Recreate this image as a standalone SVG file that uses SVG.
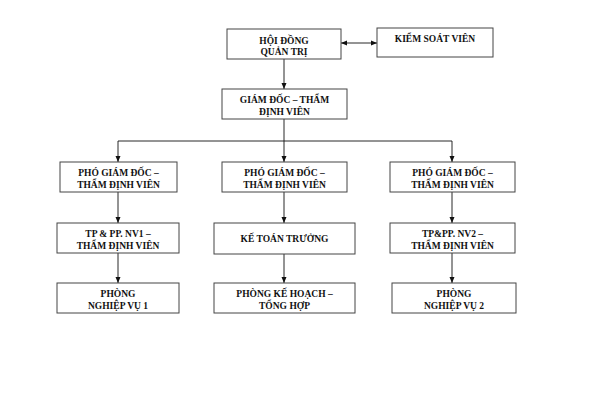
<svg xmlns="http://www.w3.org/2000/svg" width="595" height="420" viewBox="0 0 595 420">
<style>
.box{fill:#fff;stroke:#444;stroke-width:1}
.t{font-family:"Liberation Serif","Times New Roman",serif;font-weight:bold;font-size:9.5px;fill:#111;text-anchor:middle}
.c{fill:none;stroke:#111;stroke-width:0.9}
</style>
<defs>
<marker id="ah" markerUnits="userSpaceOnUse" markerWidth="6" markerHeight="6" refX="6" refY="3" orient="auto-start-reverse" viewBox="0 0 6 6">
<path d="M0,0.5 L6,3 L0,5.5 Z" fill="#111"/>
</marker>
</defs>
<rect width="595" height="420" fill="#fff"/>
<g id="connectors">
<line class="c" x1="341" y1="43" x2="377" y2="43" marker-start="url(#ah)" marker-end="url(#ah)"/>
<line class="c" x1="284" y1="59" x2="284" y2="89" marker-end="url(#ah)"/>
<line class="c" x1="284" y1="119" x2="284" y2="162" marker-end="url(#ah)"/>
<polyline class="c" points="118,162 118,141 452,141 452,162" marker-start="url(#ah)" marker-end="url(#ah)"/>
<line class="c" x1="118" y1="192" x2="118" y2="223" marker-end="url(#ah)"/>
<line class="c" x1="284" y1="192" x2="284" y2="223" marker-end="url(#ah)"/>
<line class="c" x1="452" y1="192" x2="452" y2="223" marker-end="url(#ah)"/>
<line class="c" x1="118" y1="253" x2="118" y2="283" marker-end="url(#ah)"/>
<line class="c" x1="284" y1="254" x2="284" y2="283" marker-end="url(#ah)"/>
<line class="c" x1="452" y1="253" x2="452" y2="283" marker-end="url(#ah)"/>
</g>
<g id="hdqt"><rect class="box" x="227" y="29" width="114" height="30"/>
<text class="t" x="284" y="43.5">HỘI ĐỒNG</text><text class="t" x="284" y="55">QUẢN TRỊ</text></g>
<g id="ksv"><rect class="box" x="377" y="28" width="116" height="29"/>
<text class="t" x="435" y="42">KIỂM SOÁT VIÊN</text></g>
<g id="gd"><rect class="box" x="222" y="89" width="125" height="30"/>
<text class="t" x="284.5" y="102.5">GIÁM ĐỐC – THẨM</text><text class="t" x="284.5" y="114.5">ĐỊNH VIÊN</text></g>
<g id="pgd1"><rect class="box" x="60" y="162" width="117" height="30"/>
<text class="t" x="118.5" y="175.5">PHÓ GIÁM ĐỐC –</text><text class="t" x="118.5" y="187.5">THẨM ĐỊNH VIÊN</text></g>
<g id="pgd2"><rect class="box" x="222" y="162" width="125" height="30"/>
<text class="t" x="284.5" y="175.5">PHÓ GIÁM ĐỐC –</text><text class="t" x="284.5" y="187.5">THẨM ĐỊNH VIÊN</text></g>
<g id="pgd3"><rect class="box" x="390" y="162" width="125" height="30"/>
<text class="t" x="452.5" y="175.5">PHÓ GIÁM ĐỐC –</text><text class="t" x="452.5" y="187.5">THẨM ĐỊNH VIÊN</text></g>
<g id="tp1"><rect class="box" x="57" y="223" width="122" height="30"/>
<text class="t" x="118" y="236.5">TP &amp; PP. NV1 –</text><text class="t" x="118" y="248.5">THẨM ĐỊNH VIÊN</text></g>
<g id="ktt"><rect class="box" x="214" y="223" width="141" height="31"/>
<text class="t" x="284.5" y="242">KẾ TOÁN TRƯỞNG</text></g>
<g id="tp2"><rect class="box" x="390" y="223" width="125" height="30"/>
<text class="t" x="452.5" y="236.5">TP&amp;PP. NV2 –</text><text class="t" x="452.5" y="248.5">THẨM ĐỊNH VIÊN</text></g>
<g id="pnv1"><rect class="box" x="57" y="283" width="122" height="30"/>
<text class="t" x="118" y="296.5">PHÒNG</text><text class="t" x="118" y="308.5">NGHIỆP VỤ 1</text></g>
<g id="pkh"><rect class="box" x="214" y="283" width="141" height="30"/>
<text class="t" x="284.5" y="296.5">PHÒNG KẾ HOẠCH –</text><text class="t" x="284.5" y="308.5">TỔNG HỢP</text></g>
<g id="pnv2"><rect class="box" x="392" y="283" width="124" height="30"/>
<text class="t" x="454" y="296.5">PHÒNG</text><text class="t" x="454" y="308.5">NGHIỆP VỤ 2</text></g>
</svg>
